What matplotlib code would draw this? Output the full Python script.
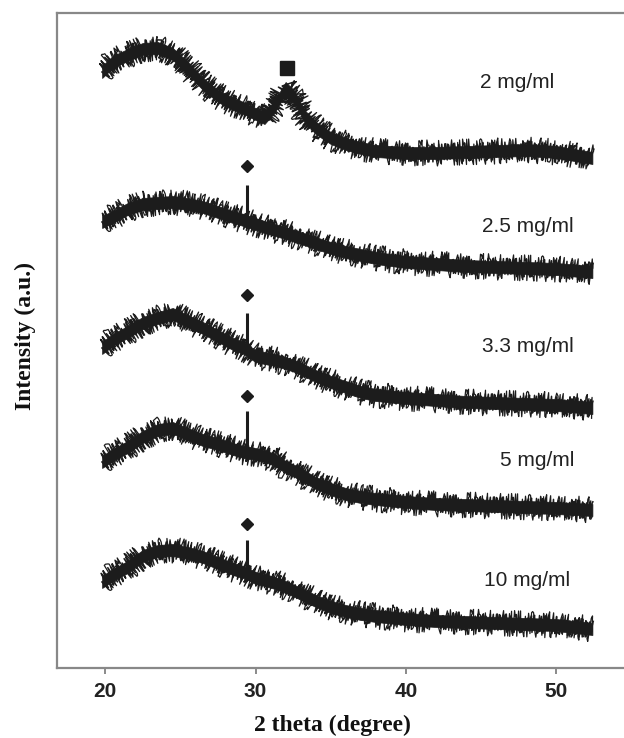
import matplotlib
matplotlib.use("Agg")
import matplotlib.pyplot as plt
import numpy as np

# ---- data (intensity in arbitrary units, offsets included) ----
two_theta = [19.8, 20.5, 21.5, 22.5, 23.5, 24.5, 25.5, 26.5, 27.5, 28.5, 29.2, 30.0,
             30.6, 31.3, 32.0, 32.6, 33.2, 34.0, 35.0, 36.0, 37.0, 38.0, 40.0, 42.0,
             44.0, 46.0, 48.0, 50.0, 52.4]

i_2mg = [596, 606, 613, 619, 620, 614, 600, 584, 572, 564, 560, 554, 550, 562, 580,
         571, 553, 540, 530, 524, 520, 517, 515, 515, 516, 517, 518, 516, 510]
i_2p5mg = [446, 451, 459, 464, 465, 466, 464, 461, 456, 451, 448, 444, 441, 438, 435,
           432, 429, 425, 420, 416, 413, 410, 406, 404, 402, 401, 400, 399, 396]
i_3p3mg = [320, 328, 336, 345, 350, 354, 347, 340, 332, 324, 320, 312, 310, 308, 305,
           302, 298, 292, 286, 281, 276, 273, 270, 268, 266, 265, 264, 263, 260]
i_5mg = [206, 213, 221, 231, 238, 240, 234, 228, 224, 219, 216, 214, 212, 208, 201,
         197, 192, 185, 179, 174, 171, 169, 166, 164, 163, 162, 161, 160, 158]
i_10mg = [86, 93, 101, 112, 117, 118, 115, 111, 105, 99, 96, 90, 88, 85, 81,
          77, 73, 67, 61, 57, 54, 52, 49, 47, 46, 45, 44, 43, 39]

series = [i_2mg, i_2p5mg, i_3p3mg, i_5mg, i_10mg]
labels = ["2 mg/ml", "2.5 mg/ml", "3.3 mg/ml", "5 mg/ml", "10 mg/ml"]
noise_halfwidth = [6, 6, 6, 6, 6]

# sharp calcite peak at 29.4 (traces 2-5): base and top
calcite_x = 29.4
calcite_base = [447, 318, 215, 95]
calcite_top = [483, 355, 257, 128]
diamond_y = [502, 373, 272, 144]

# broad peak marker (2 mg/ml)
square_x = 32.1
square_y = 600

label_x = [44.9, 45.05, 45.05, 46.25, 45.2]
label_y = [586, 442, 322, 208, 88]

xticks = [20, 30, 40, 50]

# ---- figure ----
W, H = 624, 738
fig = plt.figure(figsize=(W / 100, H / 100), dpi=100)
ax = fig.add_axes([57 / W, 70 / H, 1 - 57 / W, 655 / H])

ink = "#1c1c1c"
x = np.array(two_theta)
for ys, hw in zip(series, noise_halfwidth):
    y = np.array(ys, dtype=float)
    ax.fill_between(x, y - hw, y + hw, color=ink, linewidth=0.5, edgecolor=ink)
    # noisy rendering style of the measured trace
    l1, = ax.plot(x, y, color=ink, lw=0.9)
    l1.set_sketch_params(13, 1.0, 8)
    l2, = ax.plot(x, y, color=ink, lw=1.1)
    l2.set_sketch_params(9, 2.0, 4)

for b, t, d in zip(calcite_base, calcite_top, diamond_y):
    ax.plot([calcite_x, calcite_x], [b, t], color=ink, lw=2.2, solid_capstyle="butt")
    ax.plot([calcite_x], [d], marker="D", markersize=6, color=ink, linestyle="none")

ax.plot([square_x], [square_y], marker="s", markersize=9.5, color=ink, linestyle="none")

for lx, ly, lab in zip(label_x, label_y, labels):
    ax.text(lx, ly, lab, fontsize=15, family="Liberation Sans", color="#222222",
            ha="left", va="center")

ax.set_xlim(16.8, 54.5)
ax.set_ylim(0, 655)
ax.set_xticks(xticks)
ax.set_xticklabels([str(t) for t in xticks], fontsize=15, family="Liberation Sans",
                   fontweight="bold", color="#222222")
ax.set_yticks([])
ax.tick_params(axis="x", direction="out", length=4, width=1.2, color="#777777", pad=6)

for s in ["left", "bottom", "top"]:
    ax.spines[s].set_color("#888888")
    ax.spines[s].set_linewidth(1.6)
ax.spines["right"].set_visible(False)

fig.text(332 / W, 1 - 725 / H, "2 theta (degree)", fontsize=17, family="Liberation Serif",
         fontweight="bold", ha="center", va="center", color="#111111")
fig.text(25 / W, 1 - 336 / H, "Intensity (a.u.)", fontsize=17, family="Liberation Serif",
         fontweight="bold", ha="center", va="center", rotation=90, color="#111111")

fig.savefig("out.png", dpi=100)
